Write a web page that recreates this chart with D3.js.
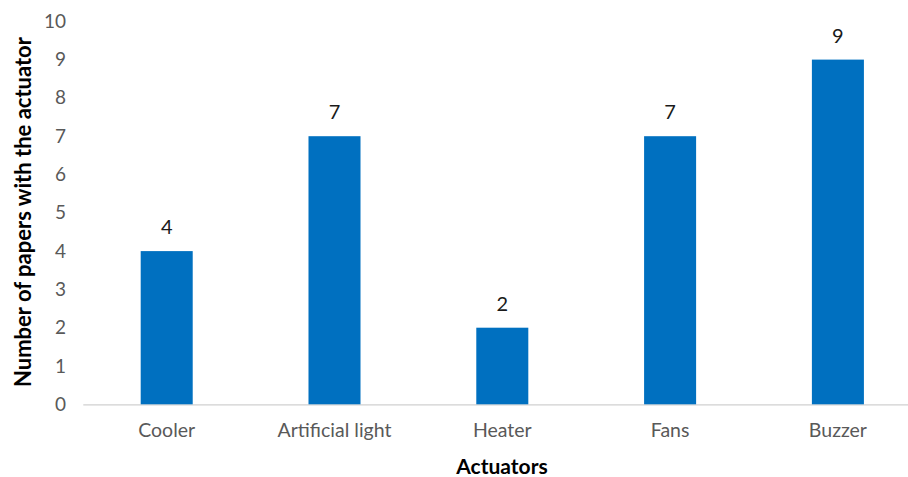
<!DOCTYPE html>
<html>
<head>
<meta charset="utf-8">
<script src="https://cdn.jsdelivr.net/npm/d3@7"></script>
<style>
  html, body { margin: 0; padding: 0; background: #fff; }
  svg { display: block; }
  text { font-family: Lato, "Open Sans", sans-serif; }
</style>
</head>
<body>
<svg id="chart" width="908" height="477"></svg>
<script>
// Actuators used across the reviewed papers
const categories = ["Cooler", "Artificial light", "Heater", "Fans", "Buzzer"];
const paperCounts = [4, 7, 2, 7, 9];
const yTicks = [0, 1, 2, 3, 4, 5, 6, 7, 8, 9, 10];

const svg = d3.select("#chart");

const x = d3.scaleBand()
  .domain(categories)
  .range([82.8, 921.8])
  .paddingInner(0.69)
  .paddingOuter(0.345);

const y = d3.scaleLinear()
  .domain([0, 10])
  .range([404.3, 21.3]);

// Baseline along the category axis
const xAxis = svg.append("g")
  .attr("transform", `translate(0,${y(0)})`)
  .call(d3.axisBottom(x).tickSize(0).tickPadding(19));
xAxis.select(".domain").attr("stroke", "#d0d0d0").attr("stroke-width", 1.3);
xAxis.selectAll("text")
  .attr("fill", "#595959")
  .attr("font-size", 19.5)
  .attr("font-family", "Lato, 'Open Sans', sans-serif");

// Value axis: labels only, no line
const yAxis = svg.append("g")
  .attr("transform", "translate(84,0)")
  .call(d3.axisLeft(y).tickValues(yTicks).tickSize(0).tickPadding(18));
yAxis.select(".domain").remove();
yAxis.selectAll("text")
  .attr("fill", "#595959")
  .attr("font-size", 19)
  .attr("font-family", "Lato, 'Open Sans', sans-serif");

// Bars
svg.append("g")
  .selectAll("rect")
  .data(categories)
  .join("rect")
  .attr("x", d => x(d))
  .attr("width", x.bandwidth())
  .attr("y", (d, i) => y(paperCounts[i]))
  .attr("height", (d, i) => y(0) - y(paperCounts[i]))
  .attr("fill", "#0070C0");

// Value labels above bars
svg.append("g")
  .selectAll("text")
  .data(categories)
  .join("text")
  .attr("x", d => x(d) + x.bandwidth() / 2)
  .attr("y", (d, i) => y(paperCounts[i]) - 17)
  .attr("text-anchor", "middle")
  .attr("font-size", 20)
  .attr("fill", "#1a1a1a")
  .text((d, i) => paperCounts[i]);

// Axis titles
svg.append("text")
  .attr("x", 502)
  .attr("y", 474)
  .attr("text-anchor", "middle")
  .attr("font-size", 21)
  .attr("font-weight", "bold")
  .attr("fill", "#000")
  .text("Actuators");

svg.append("text")
  .attr("transform", "translate(31,212) rotate(-90)")
  .attr("text-anchor", "middle")
  .attr("font-size", 22)
  .attr("font-weight", "bold")
  .attr("fill", "#000")
  .text("Number of papers with the actuator");
</script>
</body>
</html>
